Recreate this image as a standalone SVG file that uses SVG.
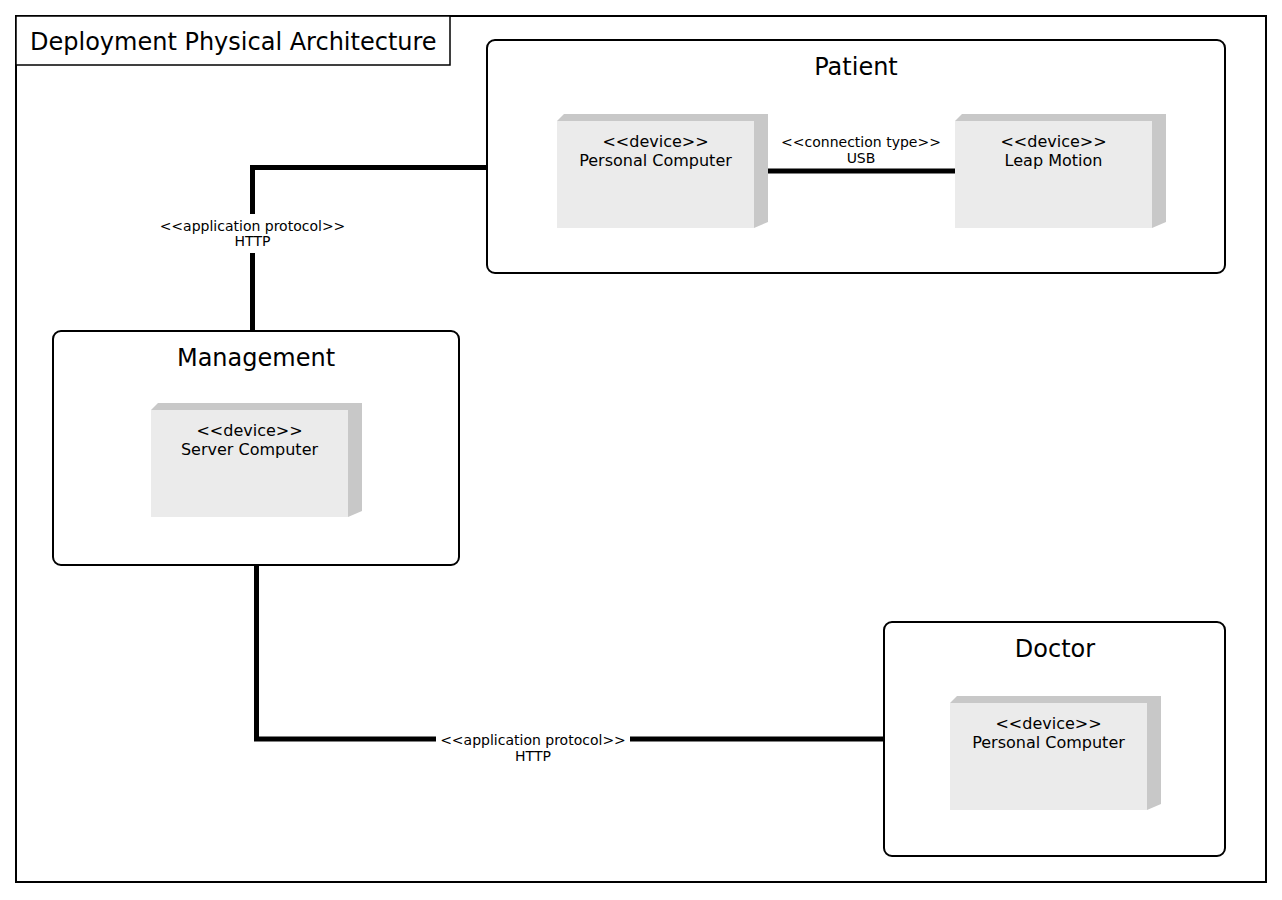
<svg xmlns="http://www.w3.org/2000/svg" width="1282" height="900" viewBox="0 0 1282 900">
<style>
text{font-family:"DejaVu Sans","Liberation Sans",sans-serif;fill:#000}
.frame{fill:#fff;stroke:#000;stroke-width:2}
.tbox{fill:#fff;stroke:#000;stroke-width:1.5}
.title{font-size:24px}
.grp{fill:#fff;stroke:#000;stroke-width:2}
.gtitle{font-size:24px;text-anchor:middle}
.back{fill:#c8c8c8}
.front{fill:#ebebeb}
.dtext{font-size:16px;text-anchor:middle}
.conn{fill:none;stroke:#000;stroke-width:5}
.lbg{fill:#fff}
.ltext{font-size:14px;text-anchor:middle}
</style>
<defs>
<g id="device">
<polygon class="back" points="0,0 7,-7 211,-7 211,101 197,107"/>
<rect class="front" x="0" y="0" width="197" height="107"/>
</g>
</defs>
<g id="frame">
<rect class="frame" x="16" y="16" width="1250" height="866"/>
<rect class="tbox" x="16" y="16" width="434" height="49"/>
<text class="title" x="30" y="50">Deployment Physical Architecture</text>
</g>
<g id="patient">
<rect class="grp" x="487" y="40" width="738" height="233" rx="8"/>
<text class="gtitle" x="856" y="75">Patient</text>
</g>
<g id="patient-pc">
<use href="#device" x="557" y="121"/>
<text class="dtext" x="655.5" y="147">&lt;&lt;device&gt;&gt;</text>
<text class="dtext" x="655.5" y="166">Personal Computer</text>
</g>
<g id="leap-motion">
<use href="#device" x="955" y="121"/>
<text class="dtext" x="1053.5" y="147">&lt;&lt;device&gt;&gt;</text>
<text class="dtext" x="1053.5" y="166">Leap Motion</text>
</g>
<g id="management">
<rect class="grp" x="53" y="331" width="406" height="234" rx="8"/>
<text class="gtitle" x="256" y="366">Management</text>
</g>
<g id="server">
<use href="#device" x="151" y="410"/>
<text class="dtext" x="249.5" y="436">&lt;&lt;device&gt;&gt;</text>
<text class="dtext" x="249.5" y="455">Server Computer</text>
</g>
<g id="doctor">
<rect class="grp" x="884" y="622" width="341" height="234" rx="8"/>
<text class="gtitle" x="1055" y="657">Doctor</text>
</g>
<g id="doctor-pc">
<use href="#device" x="950" y="703"/>
<text class="dtext" x="1048.5" y="729">&lt;&lt;device&gt;&gt;</text>
<text class="dtext" x="1048.5" y="748">Personal Computer</text>
</g>
<g id="connectors">
<path class="conn" d="M487,167.5 H252.5 V331"/>
<rect class="lbg" x="155" y="214" width="195" height="39"/>
<text class="ltext" x="252.5" y="231">&lt;&lt;application protocol&gt;&gt;</text>
<text class="ltext" x="252.5" y="246">HTTP</text>
<path class="conn" d="M256.5,565 V739 H884"/>
<rect class="lbg" x="436" y="730" width="194" height="36"/>
<text class="ltext" x="533" y="745">&lt;&lt;application protocol&gt;&gt;</text>
<text class="ltext" x="533" y="761">HTTP</text>
<path class="conn" d="M768,171 H955"/>
<text class="ltext" x="861" y="147">&lt;&lt;connection type&gt;&gt;</text>
<text class="ltext" x="861" y="163">USB</text>
</g>
</svg>
